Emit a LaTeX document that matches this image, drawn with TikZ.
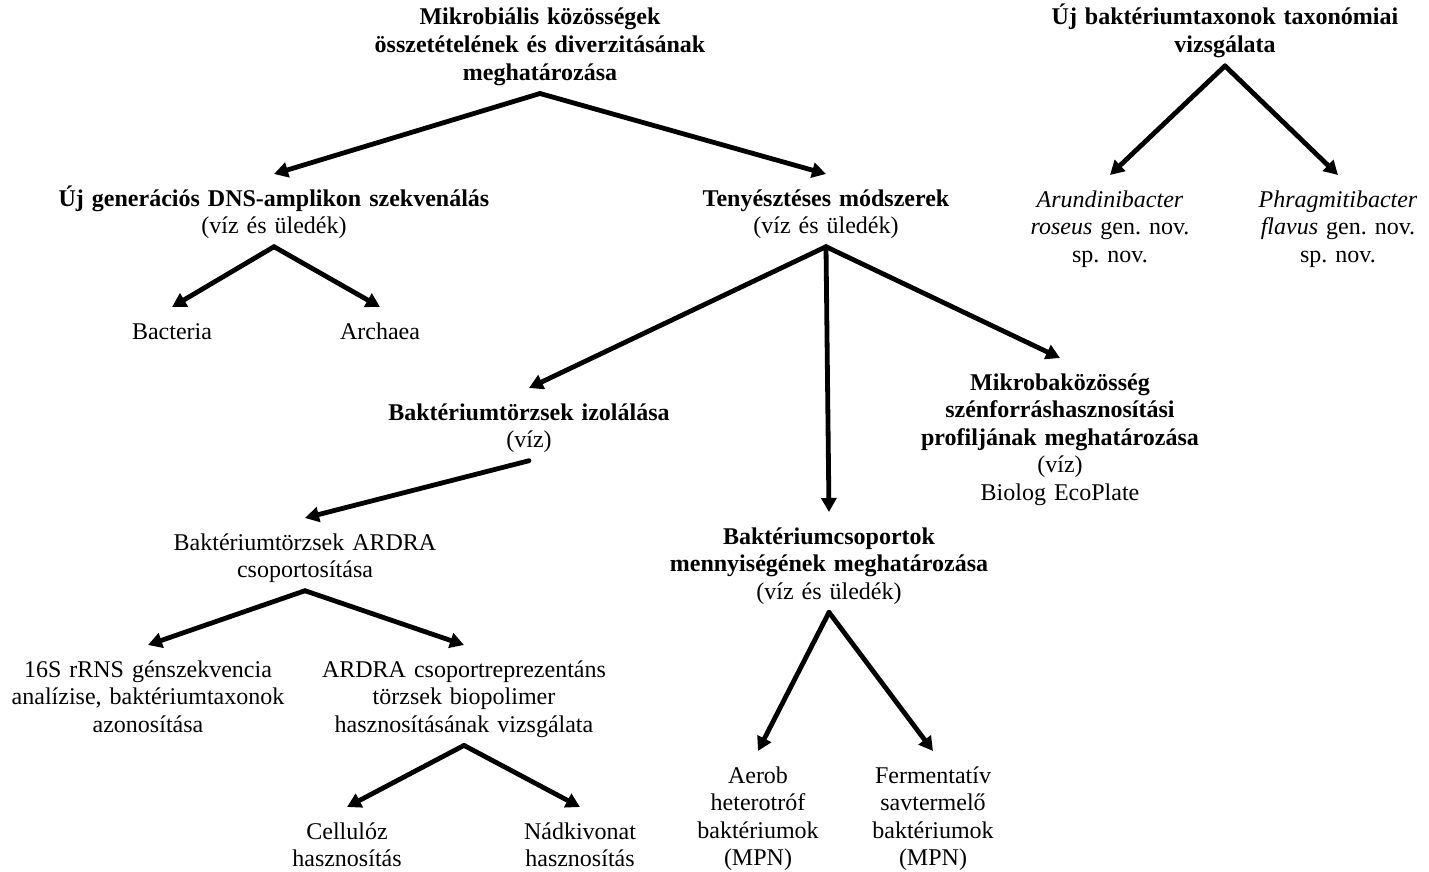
\documentclass[tikz,border=0pt]{standalone}
\usepackage{fontspec}
\setmainfont{Liberation Serif}
\usetikzlibrary{arrows.meta}

\begin{document}
\begin{tikzpicture}[x=1pt, y=-1pt,
  box/.style={anchor=north, align=center, text width=440pt, inner sep=0pt, outer xsep=0pt, outer ysep=8pt,
    font=\fontsize{24}{27.6}\selectfont\frenchspacing,
    execute at begin node=\rule{0pt}{24pt},
    execute at end node=\rule[-5pt]{0pt}{5pt}},
  head/.style={box, font=\fontsize{24}{27.6}\selectfont\frenchspacing\bfseries},
  link/.style={line width=4.8pt, line cap=round, -{Triangle[length=14pt,width=15pt]}}]
\fill[white] (0,0) rectangle (1429,872);
\useasboundingbox (0,0) rectangle (1429,872);

% Two top topics
\node[head] (mikro) at (540,-7) {Mikrobiális közösségek\\összetételének és diverzitásának\\meghatározása};
\node[head] (ujtax) at (1225,-7) {Új baktériumtaxonok taxonómiai\\vizsgálata};

% Second level
\node[box] (ngs) at (274,174) {\textbf{Új generációs DNS-amplikon szekvenálás}\\(víz és üledék)};
\node[box] (teny) at (826,174) {\textbf{Tenyésztéses módszerek}\\(víz és üledék)};
\node[box] (arund) at (1110,175) {\textit{Arundinibacter}\\\textit{roseus} gen. nov.\\sp. nov.};
\node[box] (phrag) at (1338,175) {\textit{Phragmitibacter}\\\textit{flavus} gen. nov.\\sp. nov.};

\node[box] (bact) at (172,307) {Bacteria};
\node[box] (arch) at (380,307) {Archaea};

% Culture based branch
\node[box] (izol) at (529,388) {\textbf{Baktériumtörzsek izolálása}\\(víz)};
\node[box] (eco) at (1060,358) {\textbf{Mikrobaközösség}\\\textbf{szénforráshasznosítási}\\\textbf{profiljának meghatározása}\\(víz)\\Biolog EcoPlate};
\node[box] (csop) at (829,512) {\textbf{Baktériumcsoportok}\\\textbf{mennyiségének meghatározása}\\(víz és üledék)};

\node[box] (ardra) at (305,518) {Baktériumtörzsek ARDRA\\csoportosítása};
\node[box] (s16) at (148,645) {16S rRNS génszekvencia\\analízise, baktériumtaxonok\\azonosítása};
\node[box] (repr) at (464,645) {ARDRA csoportreprezentáns\\törzsek biopolimer\\hasznosításának vizsgálata};
\node[box] (cell) at (347,807) {Cellulóz\\hasznosítás};
\node[box] (nad) at (580,807) {Nádkivonat\\hasznosítás};

\node[box] (aerob) at (758,751) {Aerob\\heterotróf\\baktériumok\\(MPN)};
\node[box] (ferm) at (933,751) {Fermentatív\\savtermelő\\baktériumok\\(MPN)};

% Arrows
\draw[link] (mikro.south) -- (ngs.north);
\draw[link] (mikro.south) -- (teny.north);
\draw[link] (ujtax.south) -- (arund.north);
\draw[link] (ujtax.south) -- (phrag.north);
\draw[link] (ngs.south) -- (bact.north);
\draw[link] (ngs.south) -- (arch.north);
\draw[link] (teny.south) -- (izol.north);
\draw[link] (teny.south) -- (csop.north);
\draw[link] (teny.south) -- (eco.north);
\draw[link] (izol.south) -- (ardra.north);
\draw[link] (ardra.south) -- (s16.north);
\draw[link] (ardra.south) -- (repr.north);
\draw[link] (repr.south) -- (cell.north);
\draw[link] (repr.south) -- (nad.north);
\draw[link] (csop.south) -- (aerob.north);
\draw[link] (csop.south) -- (ferm.north);
\end{tikzpicture}
\end{document}
